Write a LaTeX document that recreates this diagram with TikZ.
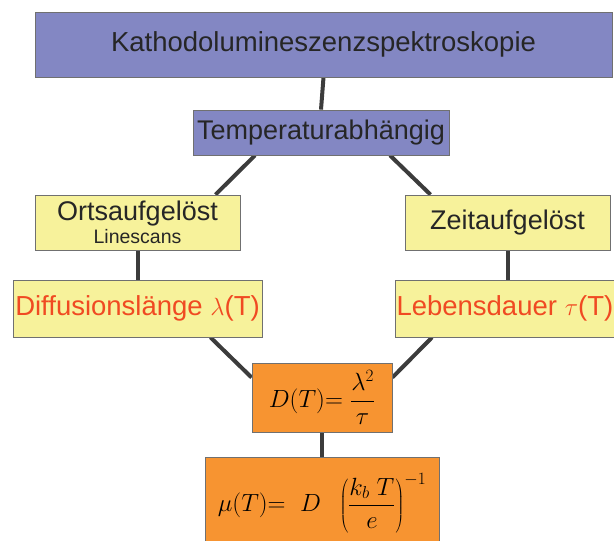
\documentclass[tikz,border=0pt]{standalone}
\usepackage{fontspec}
\setmainfont{Liberation Sans}
\usetikzlibrary{calc,backgrounds}
\definecolor{boxpurple}{HTML}{8387C3}
\definecolor{boxyellow}{HTML}{F7F29B}
\definecolor{boxorange}{HTML}{F79431}
\definecolor{txtred}{HTML}{F04A22}
\definecolor{linegray}{HTML}{3C3C3C}
\definecolor{bordergray}{HTML}{707070}
\tikzset{
  box/.style={draw=bordergray, line width=0.8pt, inner sep=0pt, align=center},
  pbox/.style={box, fill=boxpurple, text=black!85},
  ybox/.style={box, fill=boxyellow, text=black!85},
  obox/.style={box, fill=boxorange, text=black},
  conn/.style={draw=linegray, line width=4pt},
}
\begin{document}
\begin{tikzpicture}[x=1pt,y=-1pt]
\useasboundingbox (0,0) rectangle (614,541);
\node[pbox, minimum width=577pt, minimum height=65pt] (kath) at (323.5,44.5)
  {\fontsize{27.5}{32}\selectfont Kathodolumineszenzspektroskopie};
\node[pbox, minimum width=256pt, minimum height=45pt] (temp) at (321,132.5)
  {\fontsize{27}{32}\selectfont Temperaturabhängig};
\node[ybox, minimum width=205pt, minimum height=55pt] (orts) at (137.5,222.5)
  {\fontsize{27}{28}\selectfont Ortsaufgelöst\\[2pt]\fontsize{19.5}{20}\selectfont Linescans};
\node[ybox, minimum width=205pt, minimum height=55pt] (zeit) at (507.5,222.5)
  {\fontsize{27}{32}\selectfont Zeitaufgelöst};
\node[ybox, minimum width=249pt, minimum height=57pt, text=txtred] (diff) at (137.5,308.5)
  {\fontsize{27.5}{32}\selectfont Diffusionslänge $\lambda$(T)};
\node[ybox, minimum width=226pt, minimum height=57pt, text=txtred, text width=223pt, align=left] (leb) at (508,308.5)
  {\fontsize{27.5}{32}\selectfont Lebensdauer\hspace{0.28em}$\tau$(T)};
\node[obox, minimum width=140pt, minimum height=69pt] (dt) at (322,397.5)
  {\fontsize{26}{30}\selectfont $\displaystyle D(T){=}\ \frac{\lambda^2}{\tau}$};
\node[obox, minimum width=234pt, minimum height=92pt] (mu) at (322,503)
  {\fontsize{27}{30}\selectfont\raisebox{4pt}{$\displaystyle \mu(T){=}\;\ D\;\ \left(\frac{k_b\;T}{e}\right)^{-1}$}};
\begin{pgfonlayer}{background}
\draw[conn] (kath.south) -- (temp.north);
\draw[conn] ($(temp.south)+(-66,0)$) -- ($(orts.north)+(78,0)$);
\draw[conn] ($(temp.south)+(69,0)$) -- ($(zeit.north)+(-77,0)$);
\draw[conn] (orts.south) -- (diff.north);
\draw[conn] (zeit.south) -- ($(leb.north)+(-0.5,0)$);
\draw[conn] ($(diff.south)+(73,0)$) -- ($(dt.west)+(0,-20)$);
\draw[conn] ($(leb.south)+(-76,0)$) -- ($(dt.east)+(0,-20)$);
\draw[conn] (dt.south) -- (mu.north);
\end{pgfonlayer}
\end{tikzpicture}
\end{document}
